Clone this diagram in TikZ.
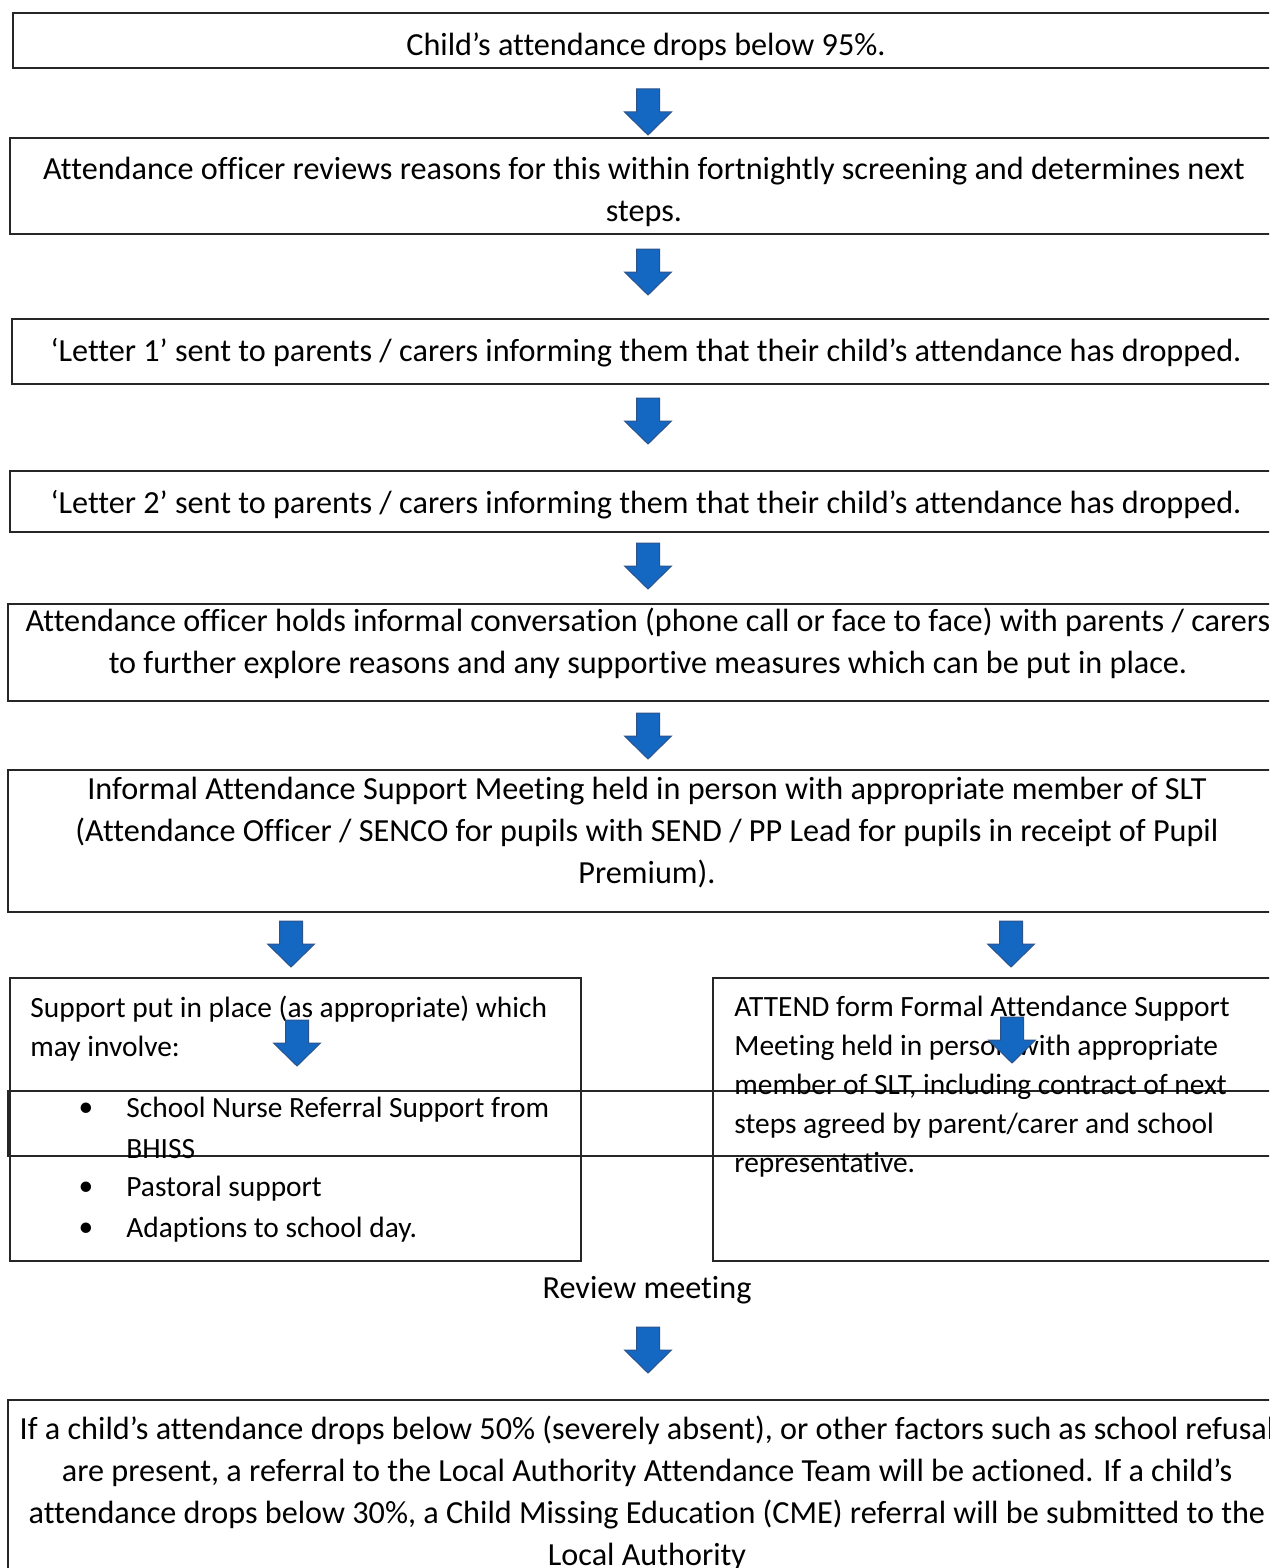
\documentclass[tikz,border=0pt]{standalone}
\usepackage{fontspec}
\setmainfont[Ligatures=NoCommon]{Carlito}
\usetikzlibrary{fit}
\definecolor{arrowblue}{RGB}{21,104,194}
\definecolor{arrowedge}{RGB}{44,82,140}
\tikzset{
  box/.style={draw=black!85, line width=0.6pt, inner sep=0pt},
  txt/.style={font=\fontsize{16.1}{21}\selectfont, inner sep=0pt, align=center},
  listtxt/.style={font=\fontsize{14.7}{19.5}\selectfont, inner sep=0pt, align=left},
  downarr/.pic={
    \filldraw[fill=arrowblue, draw=arrowedge, line width=0.5pt]
      (-11.5,-23) -- (11.5,-23) -- (11.5,0) -- (23.5,0) -- (0,23)
      -- (-23.5,0) -- (-11.5,0) -- cycle;
  }
}
\begin{document}
\begin{tikzpicture}[x=0.5pt, y=-0.5pt]
\useasboundingbox (0,0) rectangle (1269,1568);
\clip (0,0) rectangle (1269,1568);

% Boxes
\node[box, fit={(13,13) (1290,68)}] (b1) {};
\node[box, fit={(10,138) (1290,234)}] (b2) {};
\node[box, fit={(12,319) (1290,384)}] (b3) {};
\node[box, fit={(10,471) (1290,532)}] (b4) {};
\node[box, fit={(8,604) (1290,701)}] (b5) {};
\node[box, fit={(8,770) (1290,912)}] (b6) {};
\node[box, fit={(10,978) (581,1261)}] (left) {};
\node[box, fit={(713,978) (1290,1261)}] (right) {};
\node[box, fit={(8,1091) (1290,1156)}] (strip) {};
\node[box, fit={(8,1400) (1290,1590)}] (b7) {};

% Texts
\node[txt] (t1) at (646,47) {Child’s attendance drops below 95\%.};
\node[txt] (t2) at (644,192) {Attendance officer reviews reasons for this within fortnightly screening and determines next\\steps.};
\node[txt] (t3) at (646,353) {‘Letter 1’ sent to parents / carers informing them that their child’s attendance has dropped.};
\node[txt] (t4) at (646,505) {‘Letter 2’ sent to parents / carers informing them that their child’s attendance has dropped.};
\node[txt] (t5) at (648,643) {Attendance officer holds informal conversation (phone call or face to face) with parents / carers\\to further explore reasons and any supportive measures which can be put in place.};
\node[txt] (t6) at (647,833) {Informal Attendance Support Meeting held in person with appropriate member of SLT\\(Attendance Officer / SENCO for pupils with SEND / PP Lead for pupils in receipt of Pupil\\Premium).};

% Left branch
\node[listtxt, anchor=north west] (s0) at (30,996) {Support put in place (as appropriate) which\\may involve:};
\node[listtxt] (d1) at (86,1110) {\textbullet};
\node[listtxt, anchor=west] (s1) at (126,1110) {School Nurse Referral Support from};
\node[listtxt, anchor=west] (s1b) at (126,1149) {BHISS};
\node[listtxt] (d2) at (86,1189) {\textbullet};
\node[listtxt, anchor=west] (s2) at (126,1189) {Pastoral support};
\node[listtxt] (d3) at (86,1230) {\textbullet};
\node[listtxt, anchor=west] (s3) at (126,1230) {Adaptions to school day.};

% Right branch
\node[listtxt, anchor=north west] (r0) at (734,996) {ATTEND form Formal Attendance Support\\Meeting held in person with appropriate\\member of SLT, including contract of next\\steps agreed by parent/carer and school\\representative.};

\node[txt] (t7) at (647,1290) {Review meeting};
\node[txt] (t8) at (647,1493) {If a child’s attendance drops below 50\% (severely absent), or other factors such as school refusal\\are present, a referral to the Local Authority Attendance Team will be actioned. If a child’s\\attendance drops below 30\%, a Child Missing Education (CME) referral will be submitted to the\\Local Authority};

% Block arrows
\foreach \ay in {112,272,421,566,736,1350} {
  \pic at (648,\ay) {downarr};
}
\pic at (291,944) {downarr};
\pic at (1011,944) {downarr};
\pic at (297,1043) {downarr};
\pic at (1012,1040) {downarr};
\end{tikzpicture}
\end{document}
